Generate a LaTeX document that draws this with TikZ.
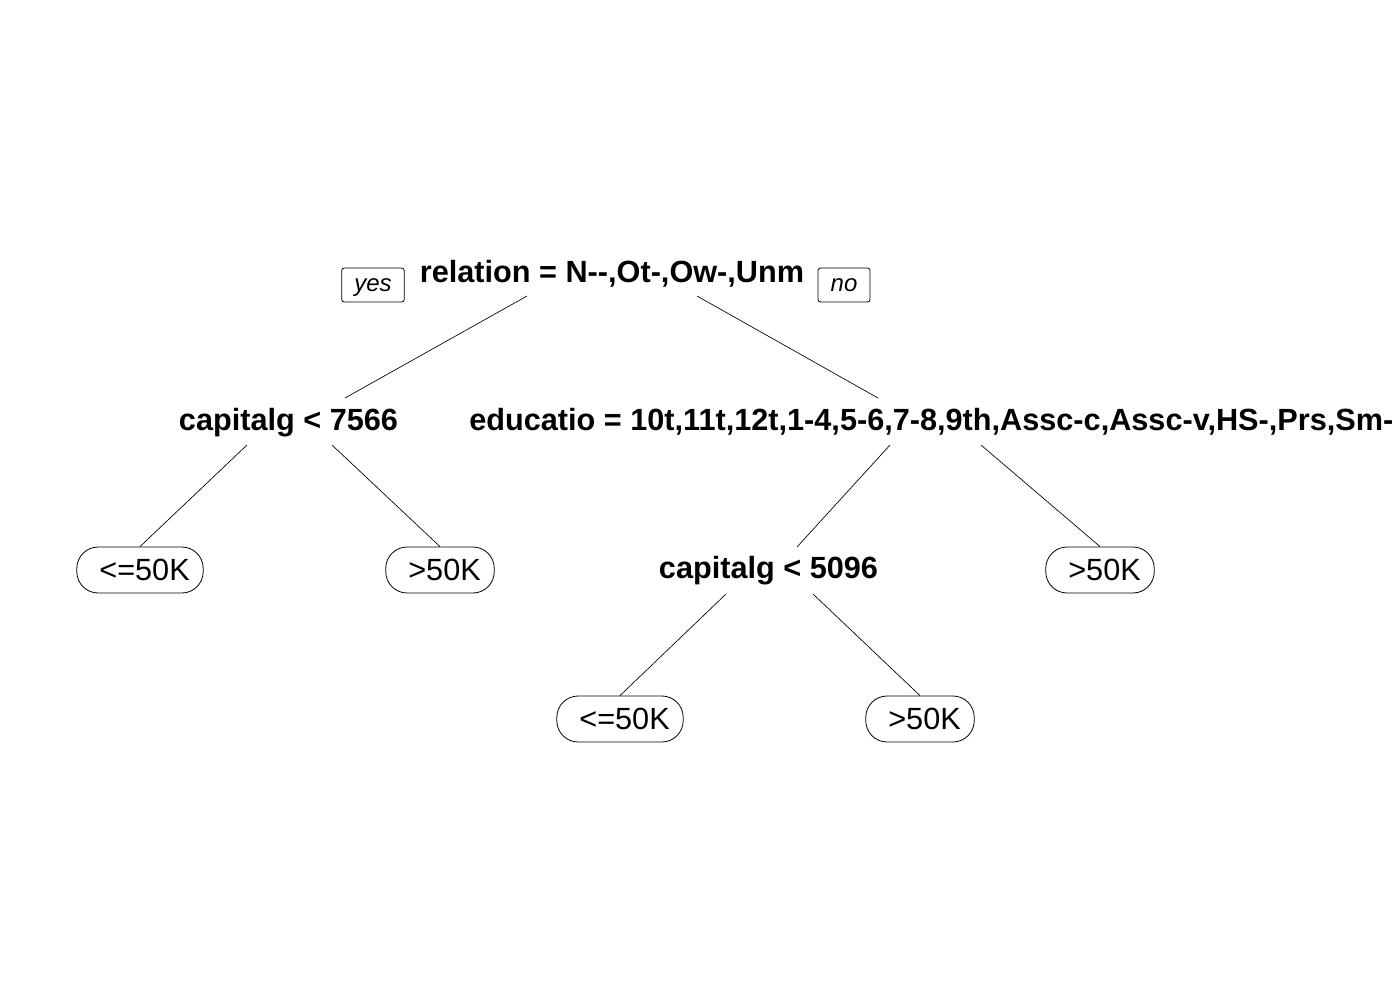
\documentclass[tikz,border=0pt]{standalone}
\usepackage{fontspec}
\setmainfont{Liberation Sans}
\usetikzlibrary{calc}
\tikzset{
  split/.style={font=\bfseries\fontsize{23}{27}\selectfont, inner sep=0pt},
  leafbox/.style={draw, line width=0.6pt, rounded corners=16pt, font=\fontsize{23}{27}\selectfont,
    minimum height=34.5pt, inner xsep=13.5pt, inner ysep=0pt},
  lab/.style={draw, line width=0.6pt, rounded corners=2pt, font=\itshape\fontsize{18}{22}\selectfont,
    minimum height=25.5pt, inner xsep=9.5pt, inner ysep=0pt, text height=9pt, text depth=0pt},
  branch/.style={line width=0.5pt}
}
\newcommand{\leaftext}[1]{\hspace*{3.4pt}#1\hspace*{-3.4pt}}
\begin{document}
\begin{tikzpicture}[x=0.75pt,y=-0.75pt]
\useasboundingbox (0,0) rectangle (1400,1000);

% Split labels
\node[split,anchor=base] (root) at (612,282) {relation = N-{}-,Ot-,Ow-,Unm};
\node[split,anchor=base] (cap1) at (288.5,430) {capitalg < 7566};
\node[split,anchor=base west] (educ) at (469,430) {educatio = 10t,11t,12t,1-4,5-6,7-8,9th,Assc-c,Assc-v,HS-,Prs,Sm-};
\node[split,anchor=base] (cap2) at (768.5,578) {capitalg < 5096};

% yes / no
\node[lab] (yes) at (373,285) {yes};
\node[lab] (no) at (844,285) {no};

% Leaves
\node[leafbox] (l1) at (140,570) {\leaftext{<=50K}};
\node[leafbox] (l2) at (440,570) {\leaftext{>50K}};
\node[leafbox] (l3) at (1100,570) {\leaftext{>50K}};
\node[leafbox] (l4) at (620,719) {\leaftext{<=50K}};
\node[leafbox] (l5) at (920,719) {\leaftext{>50K}};

% Branches
\draw[branch] ($(root.base)+(-85,14)$) -- ($(cap1.base)+(56.5,-32)$);
\draw[branch] ($(root.base)+(85,14)$) -- ($(educ.base west)+(409,-32)$);
\draw[branch] ($(cap1.base)+(-41.5,15)$) -- (l1.north);
\draw[branch] ($(cap1.base)+(43.5,15)$) -- (l2.north);
\draw[branch] ($(educ.base west)+(421,15)$) -- ($(cap2.base)+(28.5,-31)$);
\draw[branch] ($(educ.base west)+(512,15)$) -- (l3.north);
\draw[branch] ($(cap2.base)+(-42.5,16)$) -- (l4.north);
\draw[branch] ($(cap2.base)+(44.5,16)$) -- (l5.north);

\end{tikzpicture}
\end{document}
